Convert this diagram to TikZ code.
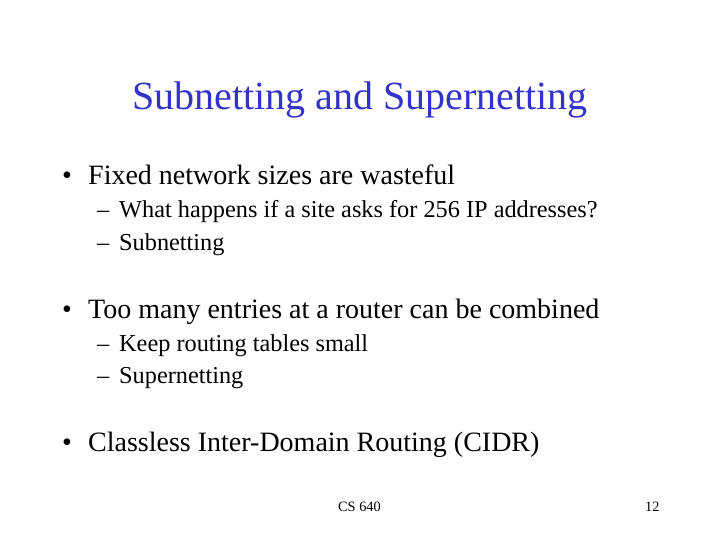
\documentclass[tikz,border=0pt]{standalone}
\usepackage{fontspec}
\setmainfont{Liberation Serif}
\begin{document}
\begin{tikzpicture}[x=1pt,y=-1pt,
  every node/.style={inner sep=0pt,anchor=base west},
  title/.style={font=\fontsize{40}{46}\selectfont,text={rgb,255:red,51;green,51;blue,204},anchor=base},
  lvl1/.style={font=\fontsize{28}{32}\selectfont},
  lvl2/.style={font=\fontsize{24.3}{28}\selectfont},
  foot/.style={font=\fontsize{14.3}{17}\selectfont}]
\useasboundingbox (0,0) rectangle (720,540);
\node[title] (t) at (360,110) {Subnetting and Supernetting};
\node[lvl1] (b1d) at (62,185) {•};
\node[lvl1] (b1) at (88,185) {Fixed network sizes are wasteful};
\node[lvl2] (s1d) at (97,218) {–};
\node[lvl2] (s1) at (119,218) {What happens if a site asks for 256 IP addresses?};
\node[lvl2] (s2d) at (97,250) {–};
\node[lvl2] (s2) at (119,250) {Subnetting};
\node[lvl1] (b2d) at (62,318) {•};
\node[lvl1] (b2) at (88,318) {Too many entries at a router can be combined};
\node[lvl2] (s3d) at (97,351) {–};
\node[lvl2] (s3) at (119,351) {Keep routing tables small};
\node[lvl2] (s4d) at (97,383) {–};
\node[lvl2] (s4) at (119,383) {Supernetting};
\node[lvl1] (b3d) at (62,451) {•};
\node[lvl1] (b3) at (88,451) {Classless Inter-Domain Routing (CIDR)};
\node[foot] (f1) at (338,511) {CS 640};
\node[foot] (f2) at (645,511) {12};
\end{tikzpicture}
\end{document}
